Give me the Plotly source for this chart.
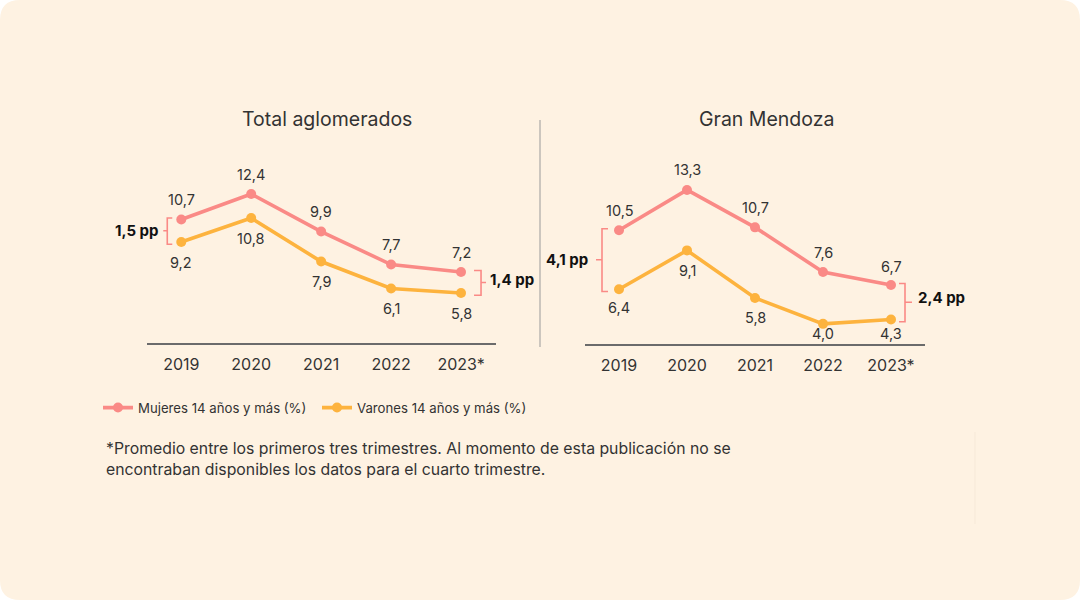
import plotly.graph_objects as go

# ---------------- data ----------------
years = ["2019", "2020", "2021", "2022", "2023*"]
titles = ["Total aglomerados", "Gran Mendoza"]
mujeres_total = [10.7, 12.4, 9.9, 7.7, 7.2]
varones_total = [9.2, 10.8, 7.9, 6.1, 5.8]
mujeres_mza = [10.5, 13.3, 10.7, 7.6, 6.7]
varones_mza = [6.4, 9.1, 5.8, 4.0, 4.3]
legend_names = ["Mujeres 14 años y más (%)", "Varones 14 años y más (%)"]
footnote = ("*Promedio entre los primeros tres trimestres. Al momento de esta publicación no se<br>"
            "encontraban disponibles los datos para el cuarto trimestre.")

# ---------------- style ----------------
W, H = 1080, 600
PINK = "#FA8A86"
ORANGE = "#FDB33E"
BG = "#FEF2E2"
TXT = "#333333"
FONT = "Inter"

def px_x(p):
    return p / W

def px_y(p):
    return 1 - p / H

xs = list(range(len(years)))

fig = go.Figure()

panels = [
    dict(xa="x", ya="y", m=mujeres_total, v=varones_total,
         xdom=[px_x(147), px_x(496)], xr=[-0.49, 4.5],
         ydom=[px_y(343), px_y(163)], yr=[2.47, 14.47], title_x=327),
    dict(xa="x2", ya="y2", m=mujeres_mza, v=varones_mza,
         xdom=[px_x(585), px_x(925)], xr=[-0.5, 4.5],
         ydom=[px_y(344), px_y(164)], yr=[2.6, 15.1], title_x=766),
]

for i, p in enumerate(panels):
    for vals, color, name in ((p["m"], PINK, legend_names[0]), (p["v"], ORANGE, legend_names[1])):
        fig.add_trace(go.Scatter(
            x=xs, y=vals, mode="lines+markers", name=name,
            line=dict(color=color, width=3.6),
            marker=dict(color=color, size=10),
            xaxis=p["xa"], yaxis=p["ya"], showlegend=(i == 0),
            hoverinfo="skip", cliponaxis=False,
        ))

layout_axes = {}
for i, p in enumerate(panels):
    sfx = "" if i == 0 else "2"
    layout_axes["xaxis" + sfx] = dict(
        domain=p["xdom"], range=p["xr"], tickvals=xs, ticktext=years,
        showline=True, linecolor="#6b6b6b", linewidth=1.5, showgrid=False,
        zeroline=False, ticks="", ticklabelstandoff=6,
        tickfont=dict(family=FONT, size=16, color=TXT), fixedrange=True,
        anchor="y" + sfx,
    )
    layout_axes["yaxis" + sfx] = dict(
        domain=p["ydom"], range=p["yr"], visible=False, showgrid=False,
        zeroline=False, fixedrange=True, anchor="x" + sfx,
    )

def fmt(v):
    return f"{v:.1f}".replace(".", ",")

annotations = []
# data labels (pink above, orange below); small overrides for crowded points
label_shift_override = {(1, "v", 3): -10, (1, "v", 4): -14, (1, "m", 4): 18, (1, "v", 0): -18}
for i, p in enumerate(panels):
    for key, vals, sgn in (("m", p["m"], 1), ("v", p["v"], -1)):
        for j, val in enumerate(vals):
            shift = label_shift_override.get((i, key, j), 20 * sgn)
            annotations.append(dict(
                x=j, y=val, xref=p["xa"], yref=p["ya"], text=fmt(val),
                showarrow=False, yshift=shift, xshift=0,
                font=dict(family=FONT, size=14.5, color=TXT),
            ))
    annotations.append(dict(
        x=px_x(p["title_x"]), y=px_y(119), xref="paper", yref="paper",
        xanchor="center", yanchor="middle",
        text=titles[i], showarrow=False,
        font=dict(family=FONT, size=19.5, color=TXT),
    ))

# gap brackets: (panel, point index, side, vertical offset px, tip len, mid len, label shift x, label shift y)
brackets = [
    (0, 0, "left", -14, 5, 4, -21, 0),
    (0, 4, "right", 20, 7, 5, 27, 3),
    (1, 0, "left", -17, 6, 6, -29, 0),
    (1, 4, "right", 14, 6, 7, 25, 5),
]
shapes = []
for (pi, j, side, ox, tip, mid, lx, ly) in brackets:
    p = panels[pi]
    top = p["m"][j] + 0.1
    bot = p["v"][j] - 0.15
    ym = (p["m"][j] + p["v"][j]) / 2
    d = 1 if side == "left" else -1
    path = (f"M {ox + d * tip},{top} L {ox},{top} L {ox},{bot} L {ox + d * tip},{bot} "
            f"M {ox},{ym} L {ox - d * mid},{ym}")
    shapes.append(dict(
        type="path", path=path, xref=p["xa"], yref=p["ya"],
        xsizemode="pixel", xanchor=j,
        line=dict(color=PINK, width=1.6),
    ))
    gap = p["m"][j] - p["v"][j]
    annotations.append(dict(
        x=j, y=ym, xref=p["xa"], yref=p["ya"],
        text=f"<b>{fmt(gap)} pp</b>", showarrow=False,
        xanchor="right" if side == "left" else "left", xshift=lx, yshift=ly,
        font=dict(family=FONT, size=15, color="#111111"),
    ))

# footnote
annotations.append(dict(
    x=px_x(104), y=px_y(437), xref="paper", yref="paper", xanchor="left", yanchor="top",
    align="left", text=footnote, showarrow=False,
    font=dict(family=FONT, size=15.8, color=TXT),
))

# rounded background card
r = 20
rx, ry = r / W, r / H
bg_path = (f"M {rx},1 L {1 - rx},1 Q 1,1 1,{1 - ry} L 1,{ry} Q 1,0 {1 - rx},0 "
           f"L {rx},0 Q 0,0 0,{ry} L 0,{1 - ry} Q 0,1 {rx},1 Z")
shapes.insert(0, dict(type="path", path=bg_path, xref="paper", yref="paper",
                      fillcolor=BG, line=dict(width=0), layer="below"))
# divider between panels
shapes.append(dict(type="line", xref="paper", yref="paper",
                   x0=px_x(540), x1=px_x(540), y0=px_y(120), y1=px_y(347),
                   line=dict(color="#9a9a9a", width=1)))
# faint vertical mark at right
shapes.append(dict(type="line", xref="paper", yref="paper",
                   x0=px_x(975), x1=px_x(975), y0=px_y(432), y1=px_y(524),
                   line=dict(color="#F6E9D8", width=1)))

fig.update_layout(
    width=W, height=H, margin=dict(l=0, r=0, t=0, b=0),
    paper_bgcolor="white", plot_bgcolor="rgba(0,0,0,0)",
    font=dict(family=FONT, color=TXT),
    showlegend=True,
    legend=dict(orientation="h", x=px_x(98), y=px_y(408), xanchor="left", yanchor="middle",
                font=dict(family=FONT, size=13.2, color=TXT), bgcolor="rgba(0,0,0,0)",
                entrywidth=174, entrywidthmode="pixels",
                itemwidth=30, tracegroupgap=0, itemclick=False, itemdoubleclick=False),
    annotations=annotations, shapes=shapes,
    **layout_axes,
)

fig.write_html(
    "out.html",
    config={"displayModeBar": False},
    post_script="document.body.style.margin='0';document.body.style.overflow='hidden';",
)
